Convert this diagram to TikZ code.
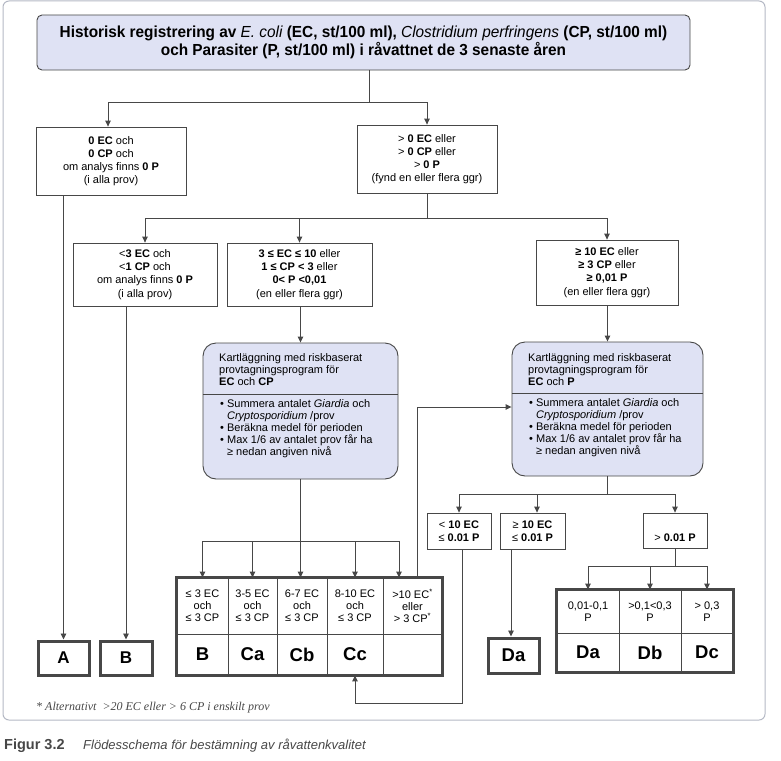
\documentclass[tikz,border=0pt]{standalone}
\usepackage{fontspec}
\setmainfont{Liberation Sans}
\newfontfamily\seriffnt{Liberation Serif}
\newfontfamily\titlefnt[FakeStretch=0.96]{Liberation Sans}
\usetikzlibrary{arrows.meta,fit,calc}
\definecolor{lav}{HTML}{DFE2F4}
\definecolor{ink}{HTML}{474747}
\definecolor{framec}{HTML}{B4B8C4}
\begin{document}
\begin{tikzpicture}[x=1pt,y=-1pt,
 ln/.style={draw=ink,line width=0.9pt},
 arr/.style={ln,-{Triangle[length=6pt,width=5.5pt]}},
 box/.style={draw=ink,line width=0.8pt,fill=white,inner sep=0pt,align=center,font=\fontsize{11}{13.2}\selectfont},
 res/.style={draw=ink,line width=3pt,fill=white,inner sep=0pt,font=\fontsize{17}{19}\selectfont\bfseries},
 cell/.style={draw=ink,line width=0.8pt,inner sep=0pt,align=center,font=\fontsize{11}{12}\selectfont},
 big/.style={cell,font=\fontsize{18.5}{20}\selectfont\bfseries},
 rbox/.style={draw=ink,line width=0.9pt,fill=lav,rounded corners=13pt,inner sep=0pt},
 rtxt/.style={anchor=north west,inner sep=0pt,align=left,font=\fontsize{11}{12}\selectfont},
 outer/.style={draw=ink,line width=3pt,inner sep=0pt,fill=none},
]
\useasboundingbox (0,0) rectangle (781,760);
\draw[framec,line width=1pt,rounded corners=6pt] (3,1) rectangle (765,720);

% title
\node[draw=ink,line width=0.9pt,fill=lav,rounded corners=5pt,minimum width=653pt,minimum height=55pt,inner sep=0pt,align=center,
  font=\titlefnt\bfseries\fontsize{16}{18}\selectfont] (title) at (363.5,42.5)
 {Historisk registrering av {\mdseries\itshape E. coli} (EC, st/100 ml), {\mdseries\itshape Clostridium perfringens} (CP, st/100 ml)\\och Parasiter (P, st/100 ml) i råvattnet de 3 senaste åren};

% level 1
\node[box,minimum width=150pt,minimum height=68pt] (l1) at (111,161)
 {\textbf{0 EC} och\\\textbf{0 CP} och\\om analys finns \textbf{0 P}\\(i alla prov)};
\node[box,minimum width=140pt,minimum height=68pt] (r1) at (427,159)
 {> \textbf{0 EC} eller\\> \textbf{0 CP} eller\\> \textbf{0 P}\\(fynd en eller flera ggr)};

% level 2
\node[box,minimum width=144pt,minimum height=63pt] (l2) at (145,274.5)
 {<\textbf{3 EC} och\\<\textbf{1 CP} och\\om analys finns \textbf{0 P}\\(i alla prov)};
\node[box,minimum width=145pt,minimum height=63pt] (m2) at (299.5,274.5)
 {\textbf{3 ≤ EC ≤ 10} eller\\\textbf{1 ≤ CP < 3} eller\\\textbf{0< P <0,01}\\(en eller flera ggr)};
\node[box,minimum width=142pt,minimum height=65pt] (r2) at (607,272.5)
 {\textbf{≥ 10 EC} eller\\\textbf{≥ 3 CP} eller\\\textbf{≥ 0,01 P}\\(en eller flera ggr)};

% rounded boxes
\node[rbox,minimum width=195pt,minimum height=136pt] (cp) at (300.5,411) {};
\node[rtxt] (cpt) at (219,353) {Kartläggning med riskbaserat\\provtagningsprogram för\\\textbf{EC} och \textbf{CP}};
\draw[ln] (cp.west |- 0,394) -- (cp.east |- 0,394);
\node[rtxt] (cpb) at (220,399) {• Summera antalet \textit{Giardia} och\\\hphantom{• }\textit{Cryptosporidium} /prov\\• Beräkna medel för perioden\\• Max 1/6 av antalet prov får ha\\\hphantom{• }≥ nedan angiven nivå};

\node[rbox,minimum width=191pt,minimum height=134pt] (pp) at (607.5,409) {};
\node[rtxt] (ppt) at (528,353) {Kartläggning med riskbaserat\\provtagningsprogram för\\\textbf{EC} och \textbf{P}};
\draw[ln] (pp.west |- 0,393) -- (pp.east |- 0,393);
\node[rtxt] (ppb) at (529,398) {• Summera antalet \textit{Giardia} och\\\hphantom{• }\textit{Cryptosporidium} /prov\\• Beräkna medel för perioden\\• Max 1/6 av antalet prov får ha\\\hphantom{• }≥ nedan angiven nivå};

% small boxes under P
\node[box,minimum width=64pt,minimum height=36pt] (s1) at (459,531) {< \textbf{10 EC}\\≤ \textbf{0.01 P}};
\node[box,minimum width=65pt,minimum height=36pt] (s2) at (532.5,531) {≥ \textbf{10 EC}\\≤ \textbf{0.01 P}};
\node[box,minimum width=64pt,minimum height=35pt] (s3) at (675,530.5) {\strut\\> \textbf{0.01 P}};

% result boxes
\node[res,minimum width=51pt,minimum height=34pt] (a) at (63.5,658) {A};
\node[res,minimum width=52pt,minimum height=34pt] (b) at (126,658) {B};
\node[res,minimum width=51pt,minimum height=35pt,font=\fontsize{18.5}{20}\selectfont\bfseries] (da) at (513.5,655.5) {Da};

% table C
\node[cell,minimum width=51pt,minimum height=56pt] (c1t) at (202.5,606) {≤ 3 EC\\och\\≤ 3 CP};
\node[cell,minimum width=49pt,minimum height=56pt] (c2t) at (252.5,606) {3-5 EC\\och\\≤ 3 CP};
\node[cell,minimum width=50pt,minimum height=56pt] (c3t) at (302,606) {6-7 EC\\och\\≤ 3 CP};
\node[cell,minimum width=56pt,minimum height=56pt] (c4t) at (355,606) {8-10 EC\\och\\≤ 3 CP};
\node[cell,minimum width=59pt,minimum height=56pt] (c5t) at (412.5,606) {>10 EC\textsuperscript{*}\\eller\\> 3 CP\textsuperscript{*}};
\node[big,minimum width=51pt,minimum height=41pt] (c1b) at (202.5,654.5) {B};
\node[big,minimum width=49pt,minimum height=41pt] (c2b) at (252.5,654.5) {Ca};
\node[big,minimum width=50pt,minimum height=41pt] (c3b) at (302,654.5) {Cb};
\node[big,minimum width=56pt,minimum height=41pt] (c4b) at (355,654.5) {Cc};
\node[big,minimum width=59pt,minimum height=41pt] (c5b) at (412.5,654.5) {};
\node[outer,fit=(c1t)(c5b)] (tabc) {};

% table D
\node[cell,minimum width=62pt,minimum height=43pt] (d1t) at (588,611.5) {0,01-0,1\\P};
\node[cell,minimum width=62pt,minimum height=43pt] (d2t) at (650,611.5) {>0,1<0,3\\P};
\node[cell,minimum width=52pt,minimum height=43pt] (d3t) at (707,611.5) {> 0,3\\P};
\node[big,minimum width=62pt,minimum height=39pt] (d1b) at (588,652.5) {Da};
\node[big,minimum width=62pt,minimum height=39pt] (d2b) at (650,652.5) {Db};
\node[big,minimum width=52pt,minimum height=39pt] (d3b) at (707,652.5) {Dc};
\node[outer,fit=(d1t)(d3b)] (tabd) {};

% junctions
\coordinate (j1) at (369,102);
\coordinate (j2) at (427,218);
\coordinate (j3) at (300.5,541);
\coordinate (j4) at (607.5,494);
\coordinate (j5) at (675,566);
\coordinate (lpa) at (462,703);

% connectors
\draw[ln] (title.south -| j1) -- (j1);
\draw[arr] (j1) -| (l1.north -| 108,0);
\draw[arr] (j1) -| (r1.north);
\draw[arr] (l1.south -| a.north) -- (a.north);
\draw[ln] (r1.south) -- (j2);
\draw[arr] (j2) -| (l2.north);
\draw[arr] (j2) -| (m2.north);
\draw[arr] (j2) -| (r2.north);
\draw[arr] (l2.south -| b.north) -- (b.north);
\draw[arr] (m2.south -| cp.north) -- (cp.north);
\draw[arr] (r2.south -| pp.north) -- (pp.north);
\draw[ln] (cp.south) -- (j3);
\draw[arr] (j3) -| (c1t.north);
\draw[arr] (j3) -| (c2t.north);
\draw[arr] (j3) -- (c3t.north -| j3);
\draw[arr] (j3) -| (c4t.north);
\draw[arr] (j3) -| (c5t.north -| 399,0);
\draw[arr] (c5t.north -| 417,0) |- (pp.west |- 0,407);
\draw[ln] (pp.south) -- (j4);
\draw[arr] (j4) -| (s1.north);
\draw[arr] (j4) -| (s2.north -| 537,0);
\draw[arr] (j4) -| (s3.north);
\draw[arr] (s1.south -| lpa) -- (lpa) -| (c4b.south);
\draw[arr] (s2.south -| 511,0) -- (da.north -| 511,0);
\draw[ln] (s3.south) -- (j5);
\draw[arr] (j5) -| (d1t.north);
\draw[arr] (j5) -| (d2t.north);
\draw[arr] (j5) -| (d3t.north);

% footnote and caption
\node[anchor=west,inner sep=0pt,font=\seriffnt\itshape\fontsize{12}{14}\selectfont,text=ink] (fn) at (36,708) {* Alternativt\ \ >20 EC eller > 6 CP i enskilt prov};
\node[anchor=west,inner sep=0pt,font=\bfseries\fontsize{14.5}{16}\selectfont,text=ink] (figl) at (4,746) {Figur 3.2};
\node[anchor=west,inner sep=0pt,font=\itshape\fontsize{13}{15}\selectfont,text=ink] (figt) at (83,746) {Flödesschema för bestämning av råvattenkvalitet};
\end{tikzpicture}
\end{document}
